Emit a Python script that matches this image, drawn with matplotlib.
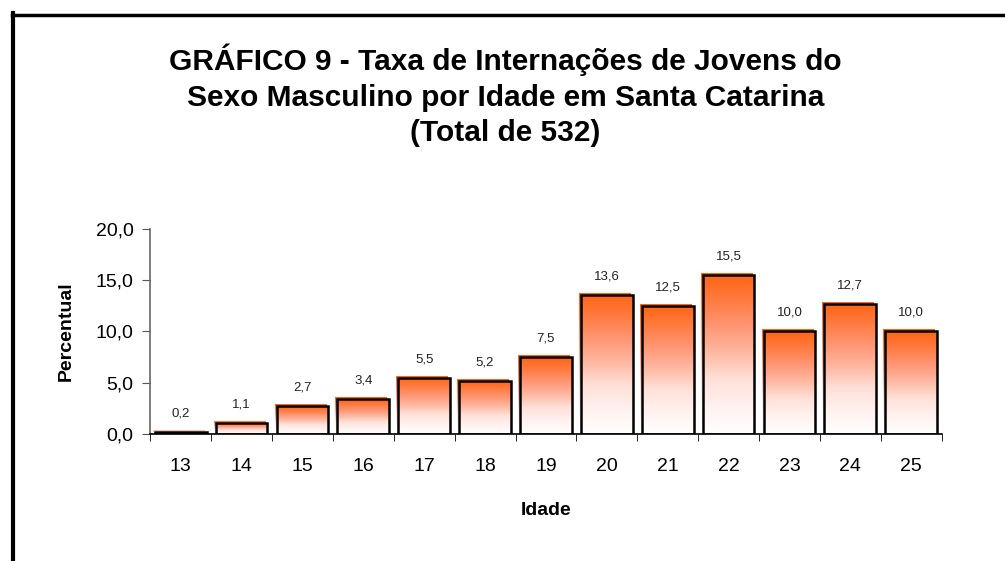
import numpy as np
import matplotlib.pyplot as plt
from matplotlib.colors import LinearSegmentedColormap
from matplotlib.patches import Rectangle
from matplotlib.lines import Line2D
from matplotlib.transforms import ScaledTranslation

plt.rcParams['font.family'] = ['Liberation Sans', 'DejaVu Sans']

# dados do gráfico
idades = ['13', '14', '15', '16', '17', '18', '19', '20', '21', '22', '23', '24', '25']
percentual = [0.2, 1.1, 2.7, 3.4, 5.5, 5.2, 7.5, 13.6, 12.5, 15.5, 10.0, 12.7, 10.0]
rotulos = ['0,2', '1,1', '2,7', '3,4', '5,5', '5,2', '7,5', '13,6', '12,5', '15,5', '10,0', '12,7', '10,0']
yticks = [0, 5, 10, 15, 20]

titulo = ('GRÁFICO 9 - Taxa de Internações de Jovens do\n'
          'Sexo Masculino por Idade em Santa Catarina\n'
          '(Total de 532)')

fig = plt.figure(figsize=(10.05, 5.61), dpi=100)
ax = fig.add_axes([0.1495, 0.2264, 0.7875, 0.3654])

# degradê laranja -> branco (de baixo para cima)
cmap = LinearSegmentedColormap.from_list(
    'laranja', [(0.0, '#FFFFFF'), (0.15, '#FFF4F2'), (0.35, '#FFE0D8'),
                (0.5, '#FDBBA5'), (0.68, '#FF9674'), (0.85, '#FF7A3E'),
                (1.0, '#FF6414')])
grad = np.linspace(0, 1, 256).reshape(-1, 1)

largura = 0.85
x = np.arange(len(idades))
desloc = ScaledTranslation(-2 / 100, 2 / 100, fig.dpi_scale_trans)

for xi, v in zip(x, percentual):
    x0 = xi - largura / 2
    # sombra em degradê deslocada (cima/esquerda)
    trans = ax.transData + desloc
    clip = Rectangle((x0, 0), largura, v, transform=trans)
    im = ax.imshow(grad, cmap=cmap, aspect='auto', origin='lower',
                   extent=[x0, x0 + largura, 0, v], transform=trans,
                   zorder=2, interpolation='bilinear')
    im.set_clip_path(clip)
    # degradê principal
    clip2 = Rectangle((x0, 0), largura, v, transform=ax.transData)
    im2 = ax.imshow(grad, cmap=cmap, aspect='auto', origin='lower',
                    extent=[x0, x0 + largura, 0, v], zorder=2,
                    interpolation='bilinear')
    im2.set_clip_path(clip2)

ax.bar(x, percentual, width=largura, facecolor='none', edgecolor='black',
       linewidth=1.8, zorder=3)

for xi, v, r in zip(x, percentual, rotulos):
    ax.annotate(r, (xi, v), xytext=(0, 9), textcoords='offset points',
                ha='center', va='bottom', fontsize=9.5, color='#222222')

ax.set_xlim(-0.5, len(idades) - 0.5)
ax.set_ylim(0, 20)
ax.set_yticks(yticks)
ax.set_yticklabels([f'{t:.1f}'.replace('.', ',') for t in yticks], fontsize=14)
ax.set_xticks(x)
ax.set_xticklabels(idades, fontsize=14)
ax.set_xticks(np.arange(len(idades) + 1) - 0.5, minor=True)
ax.tick_params(axis='x', which='major', length=0, pad=17)
ax.tick_params(axis='x', which='minor', length=5, direction='out', color='black')
ax.tick_params(axis='y', length=6, direction='out', color='#555555', pad=6)

for s in ['top', 'right']:
    ax.spines[s].set_visible(False)
ax.spines['left'].set_color('#666666')
ax.spines['bottom'].set_color('black')
ax.spines['left'].set_linewidth(1.2)
ax.spines['bottom'].set_linewidth(1.2)
ax.set_facecolor('none')

ax.set_xlabel('Idade', fontsize=14, fontweight='bold', labelpad=20)
ax.set_ylabel('Percentual', fontsize=14, fontweight='bold', labelpad=15)

fig.text(0.503, 1 - 44 / 561, titulo, ha='center', va='top', fontsize=21.5,
         fontweight='bold', linespacing=1.33)

# moldura externa (cortada à direita e embaixo)
fig.add_artist(Line2D([13 / 1005, 13 / 1005], [0, 1 - 13 / 561],
                      transform=fig.transFigure, color='black', linewidth=3))
fig.add_artist(Line2D([11.5 / 1005, 1], [1 - 14.5 / 561, 1 - 14.5 / 561],
                      transform=fig.transFigure, color='black', linewidth=2.5))

fig.savefig('out.png', dpi=100)
